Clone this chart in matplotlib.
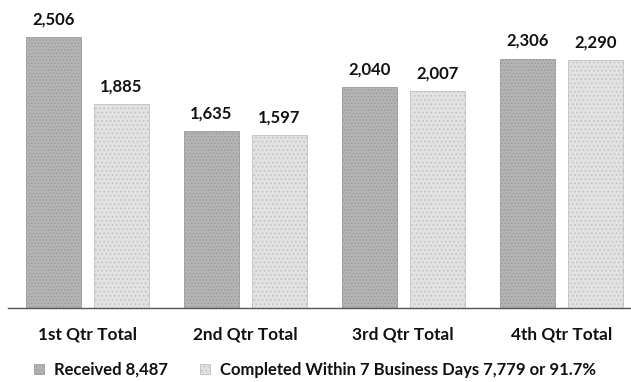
import matplotlib
matplotlib.use("Agg")
import matplotlib.pyplot as plt
import numpy as np

categories = ["1st Qtr Total", "2nd Qtr Total", "3rd Qtr Total", "4th Qtr Total"]
received = [2506, 1635, 2040, 2306]
completed = [1885, 1597, 2007, 2290]
legend_labels = ["Received 8,487", "Completed Within 7 Business Days 7,779 or 91.7%"]

plt.rcParams['font.family'] = ['Lato', 'DejaVu Sans']
plt.rcParams['hatch.linewidth'] = 0.6

fig = plt.figure(figsize=(6.31, 3.82), dpi=100)
ax = fig.add_axes([8/631, (382-308)/382, 1 - 8/631, 308/382])

x = np.arange(len(categories))
w = 0.348
off = 0.215
b1 = ax.bar(x - off, received, w, color='#b4b4b4', edgecolor='#9a9a9a', hatch='.....', linewidth=0.6, label=legend_labels[0])
b2 = ax.bar(x + off, completed, w, color='#e2e2e2', edgecolor='#c0c0c0', hatch='....', linewidth=0.6, label=legend_labels[1])

for bars, vals in ((b1, received), (b2, completed)):
    for r, v in zip(bars, vals):
        ax.annotate(f"{v:,}", (r.get_x() + r.get_width()/2, v), xytext=(0, 7),
                    textcoords='offset points', ha='center', va='bottom',
                    fontsize=12, fontweight='bold', color='#111111')

ax.set_xlim(-0.5, 3.44)
ax.set_ylim(0, 2849)
for s in ['top', 'right', 'left']:
    ax.spines[s].set_visible(False)
ax.spines['bottom'].set_color('#555555')
ax.spines['bottom'].set_linewidth(1.0)
ax.set_yticks([])
ax.set_xticks(x)
ax.set_xticklabels(categories, fontsize=12.4, fontweight='bold', color='#111111')
ax.tick_params(axis='x', length=0, pad=13)

leg = fig.legend(handles=[b1, b2], labels=legend_labels, loc='center left',
                 bbox_to_anchor=(0.03, 12/382), ncol=2, frameon=False,
                 prop={'size': 12, 'weight': 'bold'}, handlelength=0.6, handleheight=0.6,
                 handletextpad=0.6, columnspacing=1.9)
for t in leg.get_texts():
    t.set_color('#111111')

fig.savefig("out.png", dpi=100)
